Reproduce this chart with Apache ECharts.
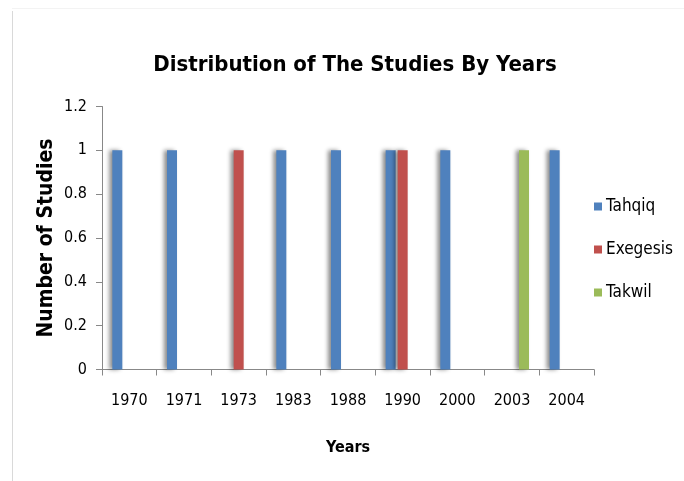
<!DOCTYPE html>
<html>
<head>
<meta charset="utf-8">
<script src="https://cdn.jsdelivr.net/npm/echarts@6/dist/echarts.min.js"></script>
<style>html,body{margin:0;padding:0;background:#fff;}#c{width:684px;height:481px;}</style>
</head>
<body>
<div id="c"></div>
<script>
const years = ['1970','1971','1973','1983','1988','1990','2000','2003','2004'];
const tahqiq = [1,1,0,1,1,1,1,0,1];
const exegesis = [0,0,1,0,0,1,0,0,0];
const takwil = [0,0,0,0,0,0,0,1,0];
const seriesNames = ['Tahqiq','Exegesis','Takwil'];
const yTicks = {min:0, max:1.2, interval:0.2};

const FONT = '"DejaVu Sans Condensed","Liberation Sans",sans-serif';
const chart = echarts.init(document.getElementById('c'), null, {renderer:'canvas'});
const barStyle = (color) => ({
  color: color,
  shadowColor: 'rgba(0,0,0,0.45)',
  shadowBlur: 4,
  shadowOffsetX: -3
});
chart.setOption({
  animation: false,
  backgroundColor: '#fff',
  color: ['#4F81BD','#C0504D','#9BBB59'],
  title: {
    text: 'Distribution of The Studies By Years',
    left: 355, top: 54, textAlign: 'center', padding: 0,
    textStyle: {fontFamily: FONT, fontSize: 22, fontWeight: 'bold', color: '#000'}
  },
  legend: {
    orient: 'vertical', left: 594, top: 198, padding: 0,
    itemWidth: 8, itemHeight: 8, itemGap: 26,
    icon: 'rect',
    data: seriesNames,
    textStyle: {fontFamily: FONT, fontSize: 17, color: '#000', padding: [0,0,0,-1]}
  },
  grid: {left: 102, right: 90, top: 106.5, bottom: 111.5, containLabel: false},
  xAxis: {
    type: 'category', data: years,
    name: 'Years', nameLocation: 'middle', nameGap: 70, nameMoveOverlap: false,
    nameTextStyle: {fontFamily: FONT, fontSize: 16, fontWeight: 'bold', color: '#000'},
    axisLine: {lineStyle: {color: '#888', width: 1}},
    axisTick: {show: true, interval: 0, length: 6, lineStyle: {color: '#888'}},
    axisLabel: {interval: 0, margin: 23, fontFamily: FONT, fontSize: 16, color: '#000'},
    splitLine: {show: false}
  },
  yAxis: {
    type: 'value', min: yTicks.min, max: yTicks.max, interval: yTicks.interval,
    name: 'Number of Studies', nameLocation: 'middle', nameGap: 45, nameRotate: 90, nameMoveOverlap: false,
    nameTextStyle: {fontFamily: FONT, fontSize: 21, fontWeight: 'bold', color: '#000'},
    axisLine: {show: true, lineStyle: {color: '#888', width: 1}},
    axisTick: {show: true, length: 6, lineStyle: {color: '#888'}},
    axisLabel: {margin: 15, fontFamily: FONT, fontSize: 16, color: '#000'},
    splitLine: {show: false}
  },
  graphic: [
    {type: 'line', shape: {x1: 12.5, y1: 11, x2: 12.5, y2: 481}, style: {stroke: '#d9d9d9', lineWidth: 1}},
    {type: 'line', shape: {x1: 12, y1: 8.5, x2: 684, y2: 8.5}, style: {stroke: '#f3f3f3', lineWidth: 1}}
  ],
  series: [
    {name: seriesNames[0], type: 'bar', data: tahqiq, barWidth: 10, barGap: '20%', itemStyle: barStyle('#4F81BD')},
    {name: seriesNames[1], type: 'bar', data: exegesis, barWidth: 10, barGap: '20%', itemStyle: barStyle('#C0504D')},
    {name: seriesNames[2], type: 'bar', data: takwil, barWidth: 10, barGap: '20%', itemStyle: barStyle('#9BBB59')}
  ]
});
</script>
</body>
</html>
